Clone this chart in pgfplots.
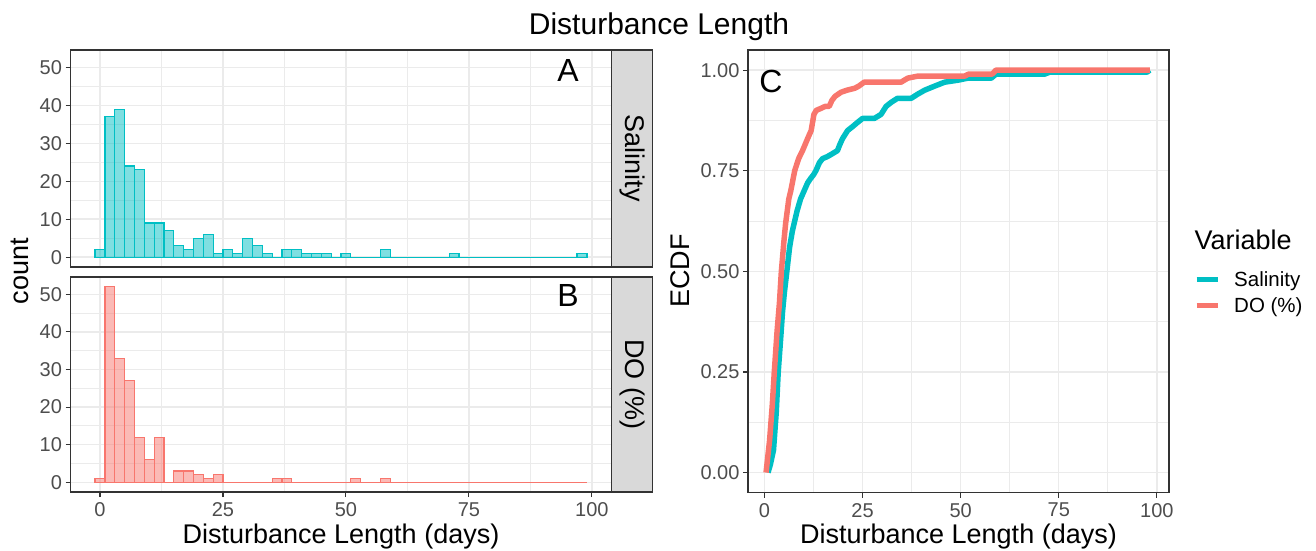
\documentclass[border=0pt]{standalone}
\usepackage{pgfplots}
\pgfplotsset{compat=1.18}
\usepackage{fontspec}
\setmainfont{Liberation Sans}
\definecolor{tealc}{HTML}{00BFC4}
\definecolor{redc}{HTML}{F8766D}
\definecolor{gridc}{HTML}{EBEBEB}
\definecolor{framec}{HTML}{333333}
\definecolor{ticklab}{HTML}{4D4D4D}
\definecolor{stripc}{HTML}{D9D9D9}
\newcommand\fs[1]{\fontsize{#1}{#1}\selectfont}

\pgfplotstableread{
x a b
0 2 1
2 37 52
4 39 33
6 24 27
8 23 12
10 9 6
12 9 12
14 7 0
16 3 3
18 2 3
20 5 2
22 6 1
24 1 2
26 2 0
28 1 0
30 5 0
32 3 0
34 1 0
36 0 1
38 2 1
40 2 0
42 1 0
44 1 0
46 1 0
48 0 0
50 1 0
52 0 1
54 0 0
56 0 0
58 2 1
60 0 0
62 0 0
64 0 0
66 0 0
68 0 0
70 0 0
72 1 0
74 0 0
76 0 0
78 0 0
80 0 0
82 0 0
84 0 0
86 0 0
88 0 0
90 0 0
92 0 0
94 0 0
96 0 0
98 1 0
}\histdata

\pgfplotsset{
  ggbase/.style={
    scale only axis,
    axis line style={draw=framec, line width=1.2pt},
    tick style={draw=framec, line width=1.1pt},
    major tick length=5pt,
    minor tick length=0pt,
    tick align=outside,
    tick pos=left,
    grid=both,
    major grid style={draw=gridc, line width=1.4pt},
    minor grid style={draw=gridc, line width=0.7pt},
    ticklabel style={font=\fs{20}, text=ticklab},
    xticklabel style={yshift=-2pt},
    yticklabel style={xshift=0pt},
  },
  histax/.style={
    ggbase,
    width=541pt,
    xmin=-6, xmax=104, ymin=-2.6, ymax=54.6,
    xtick={0,25,50,75,100},
    minor xtick={12.5,37.5,62.5,87.5},
    ytick={0,10,20,30,40,50},
    yticklabels={0,10,20,30,40,50},
    minor ytick={5,15,25,35,45},
  },
}

\begin{document}
\begin{tikzpicture}
\useasboundingbox (0pt,0pt) rectangle (1316pt,551pt);

% Panel A
\begin{axis}[histax, at={(70.5pt,284pt)}, anchor=south west, height=217pt,
  xticklabels={}, xmajorticks=false]
\addplot[ybar, bar width=2, bar shift=0pt, draw=tealc, fill=tealc, fill opacity=0.5, line width=1.2pt]
  table[x=x, y=a] {\histdata};
\end{axis}

% Panel B
\begin{axis}[histax, at={(70.5pt,59pt)}, anchor=south west, height=215pt,
  xticklabels={0,25,50,75,100}]
\addplot[ybar, bar width=2, bar shift=0pt, draw=redc, fill=redc, fill opacity=0.5, line width=1.2pt]
  table[x=x, y=b] {\histdata};
\end{axis}

% Strips
\fill[stripc] (611.5pt,284pt) rectangle (652.5pt,501pt);
\draw[framec, line width=1.2pt] (611.5pt,284pt) rectangle (652.5pt,501pt);
\node[rotate=-90, font=\fs{27}] at (632pt,392.5pt) {Salinity};
\fill[stripc] (611.5pt,59pt) rectangle (652.5pt,274pt);
\draw[framec, line width=1.2pt] (611.5pt,59pt) rectangle (652.5pt,274pt);
\node[rotate=-90, font=\fs{27}] at (632pt,166.5pt) {DO (\%)};

% Panel C
\begin{axis}[ggbase, at={(748pt,58.3pt)}, anchor=south west, width=421pt, height=442.7pt,
  xmin=-4.2, xmax=103.1, ymin=-0.05, ymax=1.05,
  xtick={0,25,50,75,100}, xticklabels={0,25,50,75,100},
  minor xtick={12.5,37.5,62.5,87.5},
  ytick={0,0.25,0.5,0.75,1}, yticklabels={0.00,0.25,0.50,0.75,1.00},
  minor ytick={0.125,0.375,0.625,0.875},
  legend style={at={(rel axis cs:1,0.452)}, anchor=west, xshift=22pt, draw=none, fill=none,
    font=\fs{20.5}, row sep=6pt,
    /tikz/every odd column/.append style={column sep=12pt}},
  legend cell align=left,
  legend image code/.code={\draw[#1, line width=5pt] (0pt,0pt) -- (21pt,0pt);},
]
\addplot[tealc, line width=5.5pt, line join=round] coordinates {
(0.9,0) (1.5,0.02) (2.3,0.056) (3.0,0.15) (3.5,0.25) (4.1,0.33) (4.6,0.40) (5.1,0.45) (5.7,0.50) (6.4,0.56) (7.1,0.60) (8.3,0.65) (9.2,0.68) (10.1,0.70) (11.0,0.72) (11.7,0.73) (12.5,0.74) (13.1,0.75) (14.0,0.77) (14.8,0.78) (16.0,0.785) (16.9,0.79) (18.6,0.80) (19.2,0.815) (19.9,0.83) (21.2,0.85) (22.5,0.86) (23.7,0.87) (25,0.88) (28,0.88) (29.7,0.89) (31,0.91) (32.3,0.92) (33.9,0.93) (37.4,0.93) (39,0.94) (40.8,0.95) (43.3,0.96) (45.9,0.97) (49.3,0.975) (51.8,0.98) (57.8,0.98) (59,0.99) (71.4,0.99) (72.7,0.995) (97.5,0.995) (98.2,1.0)
};
\addlegendentry{Salinity}
\addplot[redc, line width=5.5pt, line join=round] coordinates {
(0.4,0) (1.3,0.08) (2.0,0.17) (2.5,0.25) (3.2,0.35) (3.8,0.42) (4.3,0.5) (5.0,0.58) (5.4,0.62) (6.2,0.68) (6.7,0.70) (7.7,0.75) (8.7,0.78) (9.7,0.80) (11,0.83) (11.9,0.85) (12.6,0.89) (13.2,0.90) (14.4,0.905) (15.5,0.91) (16.5,0.91) (17.2,0.925) (18,0.935) (19.5,0.945) (21,0.95) (23,0.955) (24,0.96) (25.4,0.97) (34.8,0.97) (36.5,0.98) (39,0.985) (51,0.985) (52,0.99) (58,0.99) (59,1.0) (98.2,1.0)
};
\addlegendentry{DO (\%)}
\end{axis}

% Labels
\node[font=\fs{30}, anchor=base] at (659pt,516pt) {Disturbance Length};
\node[font=\fs{27}, anchor=base] at (341pt,7pt) {Disturbance Length (days)};
\node[font=\fs{27}, anchor=base] at (958.5pt,7pt) {Disturbance Length (days)};
\node[font=\fs{27}, rotate=90] at (20pt,280pt) {count};
\node[font=\fs{27}, rotate=90] at (680pt,280pt) {ECDF};
\node[font=\fs{32}] at (568pt,481pt) {A};
\node[font=\fs{32}] at (568pt,256pt) {B};
\node[font=\fs{32}] at (771pt,470pt) {C};
\node[font=\fs{27}, anchor=west] at (1191pt,311pt) {Variable};
\end{tikzpicture}
\end{document}
